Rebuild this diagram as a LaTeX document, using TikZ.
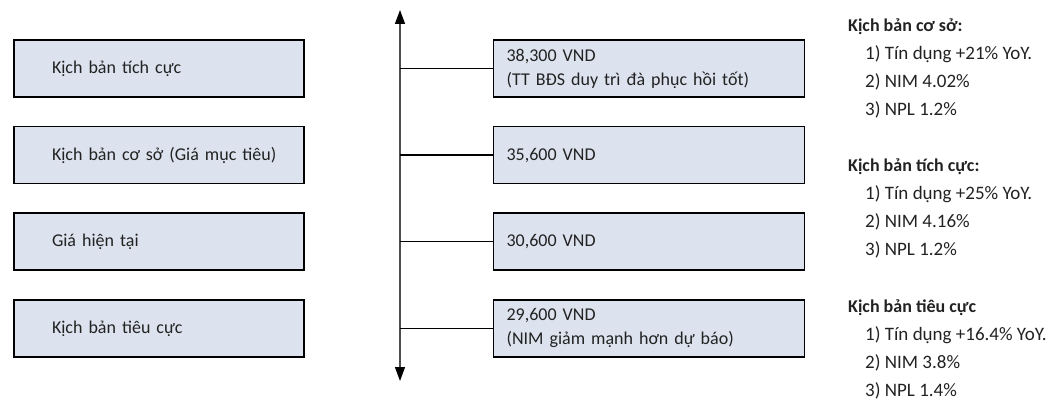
\documentclass[tikz,border=0pt]{standalone}
\usepackage{fontspec}
\setmainfont{Carlito}
\usetikzlibrary{positioning, arrows.meta}
\definecolor{boxFill}{HTML}{DCE3EE}
\definecolor{inkGray}{HTML}{222222}
\definecolor{axisGray}{HTML}{4D4D4D}

\begin{document}
\begin{tikzpicture}[
    x=1pt, y=1pt,
    font=\fontsize{18}{24}\selectfont,
    text=inkGray,
    node distance=28pt and 188pt,
    scen/.style={draw=black, line width=1.6pt, fill=boxFill,
                 minimum height=57pt, text width=214pt, inner xsep=38pt,
                 inner ysep=0pt, align=left},
    price/.style={draw=black, line width=1.6pt, fill=boxFill,
                  minimum height=57pt, text width=285pt, inner xsep=13pt,
                  inner ysep=0pt, align=left},
    note/.style={anchor=north west, inner sep=0pt, align=left,
                 font=\fontsize{19}{28}\selectfont},
    tick/.style={draw=black, line width=1.3pt},
    axis/.style={draw=axisGray, line width=1.4pt,
                 {Triangle[length=14pt, width=10pt, color=black]}-{Triangle[length=14pt, width=10pt, color=black]}},
  ]
  \useasboundingbox (0,0) rectangle (1063,-401);
  % scenarios
  \node[scen] (pos) at (159,-68.5) {Kịch bản tích cực};
  \node[scen, below=of pos] (base) {\mbox{Kịch bản cơ sở (Giá mục tiêu)}};
  \node[scen, below=of base] (now) {Giá hiện tại};
  \node[scen, below=of now] (neg) {Kịch bản tiêu cực};
  % prices
  \node[price, right=of pos] (posP) {38,300 VND\\(TT BĐS duy trì đà phục hồi tốt)};
  \node[price, right=of base] (baseP) {35,600 VND};
  \node[price, right=of now] (nowP) {30,600 VND};
  \node[price, right=of neg] (negP) {29,600 VND\\(NIM giảm mạnh hơn dự báo)};
  % price axis
  \coordinate (top) at (400,-10);
  \coordinate (bot) at (400,-381);
  \draw[axis] (bot) -- (top);
  \foreach \p in {posP, baseP, nowP, negP}
    \draw[tick] (\p.west -| top) -- (\p.west);
  % assumptions
  \node[note] (baseN) at (848,-19) {\fontsize{18}{28}\selectfont\textbf{Kịch bản cơ sở:}\\
    \hspace*{17pt}1) Tín dụng +21\% YoY.\\
    \hspace*{17pt}2) NIM 4.02\%\\
    \hspace*{17pt}3) NPL 1.2\%};
  \node[note] (posN) at (848,-158.5) {\fontsize{18}{28}\selectfont\textbf{Kịch bản tích cực:}\\
    \hspace*{17pt}1) Tín dụng +25\% YoY.\\
    \hspace*{17pt}2) NIM 4.16\%\\
    \hspace*{17pt}3) NPL 1.2\%};
  \node[note] (negN) at (848,-299.5) {\fontsize{18}{28}\selectfont\textbf{Kịch bản tiêu cực}\\
    \hspace*{17pt}1) Tín dụng +16.4\% YoY.\\
    \hspace*{17pt}2) NIM 3.8\%\\
    \hspace*{17pt}3) NPL 1.4\%};
\end{tikzpicture}
\end{document}
